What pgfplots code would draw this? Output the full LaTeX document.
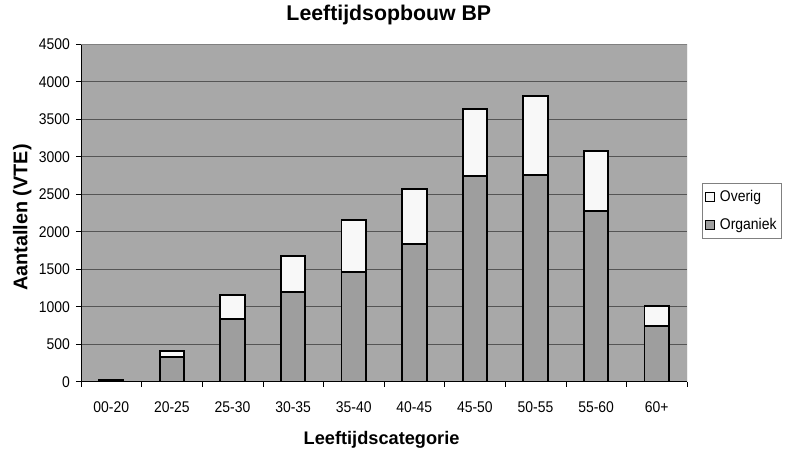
\documentclass[border=0pt]{standalone}
\usepackage{fontspec}
\setmainfont{Liberation Sans}
\newfontfamily\tickfont{Liberation Sans}[FakeStretch=0.9]
\usepackage{pgfplots}
\pgfplotsset{compat=1.18}
\usepackage{pgfplotstable}
\definecolor{bgc}{RGB}{168,168,168}
\definecolor{orgc}{RGB}{158,158,158}
\definecolor{ovc}{RGB}{248,248,248}
\definecolor{gridc}{RGB}{85,85,85}
\definecolor{framec}{RGB}{128,128,128}
\pgfplotsset{sqlegend/.style={legend image code/.code={\draw[##1, line width=0.9pt] (0pt,-4.5pt) rectangle (9pt,4.5pt);}}}
\pgfplotstableread{
c org ov
0 15 7
1 333 80
2 836 320
3 1196 480
4 1459 698
5 1837 738
6 2744 894
7 2762 1053
8 2281 801
9 743 271
}\data
\begin{document}
\begin{tikzpicture}
\useasboundingbox (-81pt,-68.3pt) rectangle (707pt,381.7pt);
\begin{axis}[
  at={(0,0)}, anchor=south west,
  scale only axis, width=606pt, height=337.4pt,
  ybar stacked, bar width=24.5pt,
  xmin=-0.5, xmax=9.5, ymin=0, ymax=4500,
  xtick={0,...,9},
  xticklabels={00-20,20-25,25-30,30-35,35-40,40-45,45-50,50-55,55-60,60+},
  minor xtick={-0.5,0.5,...,9.5},
  ytick={0,500,...,4500},
  tick align=outside,
  major tick length=5pt, minor tick length=5pt,
  major x tick style={draw=none},
  minor x tick style={draw=black, line width=0.6pt},
  major y tick style={draw=black, line width=0.6pt},
  axis x line*=bottom, axis y line*=left,
  axis line style={-, draw=black, line width=0.9pt},
  axis background/.style={fill=bgc},
  ymajorgrids, grid style={draw=gridc, line width=0.7pt},
  /pgf/number format/assume math mode=true,
  /pgf/number format/1000 sep={},
  ticklabel style={font=\tickfont\fontsize{15.5}{18}\selectfont},
  xticklabel style={anchor=base, yshift=-25.8pt},
  yticklabel style={anchor=east, inner sep=0pt, xshift=-6pt},
  title={Leeftijdsopbouw BP},
  title style={at={(axis description cs:0.508,1.0542)}, anchor=base, font=\fontsize{21.3}{25}\selectfont\bfseries},
  xlabel={Leeftijdscategorie},
  xlabel style={at={(axis description cs:0.496,-0.1876)}, anchor=base, font=\fontsize{18.2}{22}\selectfont\bfseries},
  ylabel={Aantallen (VTE)},
  ylabel style={at={(axis description cs:-0.0884,0.4867)}, anchor=base, font=\fontsize{19.8}{23}\selectfont\bfseries},
  reverse legend,
  legend cell align=left,
  legend style={at={(1.0243,0.588)}, anchor=north west, draw=framec, line width=0.6pt,
    font=\tickfont\fontsize{15.5}{18}\selectfont, inner xsep=3pt, inner ysep=5pt, row sep=11pt,
    /tikz/every odd column/.append style={column sep=3pt}},
]
\addplot[fill=orgc, draw=black, line width=1.9pt, sqlegend]
  table[x=c, y=org] {\data};
\addlegendentry{Organiek}
\addplot[fill=ovc, draw=black, line width=1.9pt, sqlegend]
  table[x=c, y=ov] {\data};
\addlegendentry{Overig}
\draw[framec, line width=0.8pt] (rel axis cs:0,1) -- (rel axis cs:1,1) -- (rel axis cs:1,0);
\end{axis}
\end{tikzpicture}
\end{document}
